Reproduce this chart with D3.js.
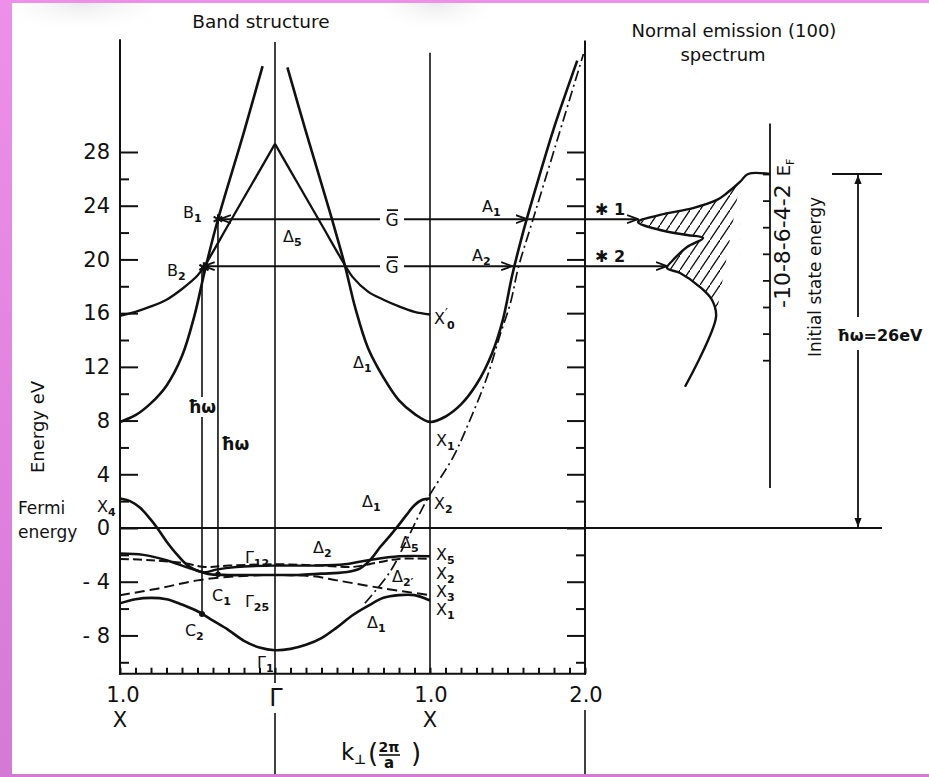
<!DOCTYPE html>
<html><head><meta charset="utf-8">
<script src="https://cdn.jsdelivr.net/npm/d3@7"></script>
<style>
body{margin:0;background:#e68ae6;}
svg{display:block}
text{font-family:"DejaVu Sans",sans-serif;fill:#111}
</style>
</head><body>
<svg id="c" width="929" height="777"></svg>
<script>
// ---------- DATA ----------
const energyMajor = [28,24,20,16,12,8,4,0,-4,-8];
const energyMinor = [26,22,18,14,10,6,2,-2,-6,-10];
const kTicks = d3.range(-10,21).map(i=>i/10);
const kTopLabels = [[-1,"1.0"],[0,"Γ"],[1,"1.0"],[2,"2.0"]];
const kBottomLabels = [[-1,"X"],[1,"X"]];
const specTicks = [0,-2,-4,-6,-8,-10,-12,-14];

// bands: [k, E(eV)]  (k in 2π/a, X=-1, Γ=0, X=1)
const upperLeft  = [[-1,7.9],[-0.9,8.4],[-0.8,9.3],[-0.7,10.6],[-0.6,12.8],[-0.52,15.8],[-0.45,19.3],[-0.37,22.9],[-0.2,29.5],[-0.08,34.4]];
const upperRight = [[0.08,34.3],[0.2,29.5],[0.37,22.9],[0.45,19.6],[0.52,16.3],[0.6,13.4],[0.7,11.2],[0.8,9.5],[0.9,8.5],[1.0,7.9],[1.1,8.3],[1.2,9.2],[1.3,10.7],[1.4,13.0],[1.47,15.5],[1.53,18.8],[1.6,22.0],[1.7,26.0],[1.8,29.8],[1.95,34.8]];
const delta5Left  = [[-1,15.8],[-0.9,16.1],[-0.8,16.5],[-0.7,17.0],[-0.6,17.8],[-0.5,18.8],[-0.45,19.6],[-0.3,22.6],[-0.15,25.6],[0,28.6]];
const delta5Right = [[0,28.6],[0.15,25.6],[0.3,22.6],[0.45,19.6],[0.5,18.7],[0.6,17.6],[0.7,17.0],[0.8,16.5],[0.9,16.1],[1,15.9]];
const freeElectron = [[0.58,-5.6],[0.74,-3.3],[0.85,-0.9],[0.98,2.1],[1.15,5.3],[1.26,8.1],[1.37,11.3],[1.45,14.3],[1.52,16.8],[1.57,19.4],[1.665,23.0],[1.8,28.1],[1.99,35.3]];
const lowestBand = [[-1,-5.6],[-0.9,-5.3],[-0.8,-5.2],[-0.7,-5.3],[-0.6,-5.7],[-0.5,-6.2],[-0.4,-6.9],[-0.3,-7.6],[-0.2,-8.4],[-0.1,-8.9],[0,-9.1],[0.1,-9.0],[0.2,-8.7],[0.3,-8.2],[0.4,-7.4],[0.5,-6.5],[0.6,-5.8],[0.7,-5.2],[0.8,-5.0],[0.9,-5.0],[1,-5.4]];
const lowDashed = [[-1,-5.0],[-0.75,-4.5],[-0.5,-3.9],[-0.25,-3.6],[0,-3.5],[0.25,-3.6],[0.4,-3.9],[0.7,-4.5],[1,-5.0]];
const dSolid = [[-1,-1.9],[-0.85,-2.0],[-0.7,-2.4],[-0.55,-3.0],[-0.45,-3.3],[-0.38,-3.1],[-0.25,-2.9],[0,-2.8],[0.25,-2.8],[0.45,-2.7],[0.6,-2.4],[0.8,-2.1],[1,-2.1]];
const dDashed = [[-1,-2.3],[-0.8,-2.4],[-0.6,-2.6],[-0.45,-2.9],[-0.3,-2.8],[0,-2.7],[0.3,-2.8],[0.5,-2.9],[0.65,-2.6],[0.8,-2.3],[1,-2.3]];
const delta1Upper = [[-1,2.2],[-0.935,2.0],[-0.87,1.5],[-0.8,0.6],[-0.76,0.0],[-0.7,-1.0],[-0.63,-2.0],[-0.55,-2.9],[-0.44,-3.4],[-0.3,-3.5],[-0.15,-3.5],[0,-3.5],[0.15,-3.5],[0.3,-3.4],[0.45,-3.3],[0.55,-3.0],[0.62,-2.3],[0.68,-1.4],[0.74,-0.6],[0.79,0.1],[0.85,1.0],[0.9,1.7],[0.95,2.1],[1,2.2]];

// transitions
const hwK    = [-0.471,-0.368];   // vertical ħω transitions
const hwTop  = [19.5,23.0];
const hwBot  = [-6.4,-3.45];
const gE     = [23.0,19.5];       // Ḡ umklapp lines
const gKB    = [-0.355,-0.46];
const gKA    = [1.625,1.53];
const gPeakI = [10.15,7.92];
const gNames = ["1","2"];

// spectrum: initial-state energy (eV) vs intensity (arb.)
const specE = [-16.0,-10.75,-9.47,-8.5,-7.44,-7.07,-6.47,-5.49,-4.81,-4.59,-4.21,-3.61,-3.08,-2.56,-1.95,-1.43,-0.6,0,0];
const specI = [6.54,4.15,4.46,5.38,6.92,7.92,7.46,6.38,5.15,6.38,8.46,10.15,8.46,5.92,4.08,3.31,2.31,1.69,0];
const hatchEdgeE = [-8.4,-0.6];
const hatchEdgeI = 2.3;
const photonEnergy = 26;

// band labels: k, E, main, sub, sup
const bandLabels = [
 [-0.594,23.1,"B","1"],[-0.697,18.8,"B","2"],[0.052,21.3,"Δ","5"],
 [1.335,23.5,"A","1"],[1.271,19.85,"A","2"],[1.026,15.2,"X","0","′"],
 [0.503,11.9,"Δ","1"],[1.039,6.1,"X","1"],[-1.148,1.2,"X","4"],
 [0.561,1.55,"Δ","1"],[1.026,1.4,"X","2"],[-0.194,-2.6,"Γ","12"],
 [0.245,-1.87,"Δ","2"],[0.806,-1.5,"Δ","5"],[1.039,-2.4,"X","5"],
 [1.039,-3.8,"X","2"],[1.039,-5.15,"X","3"],[1.039,-6.5,"X","1"],
 [0.755,-4.03,"Δ","2′"],[-0.406,-5.45,"C","1"],[-0.194,-5.9,"Γ","25"],
 [-0.581,-8.06,"C","2"],[0.594,-7.46,"Δ","1"],[-0.116,-10.45,"Γ","1"]
];

// ---------- SCALES ----------
const svg = d3.select("#c");
const x  = d3.scaleLinear().domain([-1,2]).range([120,585]);
const y  = d3.scaleLinear().domain([0,28]).range([528,152]);
const ys = d3.scaleLinear().domain([0,-10]).range([174,307]);
const xs = d3.scaleLinear().domain([0,10]).range([770,640]);
const eTop = 36.4, eBot = -10.85;
const ink = "#111";

// ---------- BACKGROUND ----------
const defs = svg.append("defs");
const bg = defs.append("linearGradient").attr("id","pink").attr("x1",0).attr("y1",0).attr("x2",0).attr("y2",1);
bg.append("stop").attr("offset","0%").attr("stop-color","#ee90ea");
bg.append("stop").attr("offset","100%").attr("stop-color","#d479d4");
const ng = defs.append("linearGradient").attr("id","noise").attr("x1",0).attr("y1",0).attr("x2",0).attr("y2",1);
ng.append("stop").attr("offset","0%").attr("stop-color","#d0d0d0").attr("stop-opacity",0.45);
ng.append("stop").attr("offset","100%").attr("stop-color","#ffffff").attr("stop-opacity",0);
const ngh = defs.append("radialGradient").attr("id","noise2").attr("cx","50%").attr("cy","0%").attr("r","70%");
ngh.append("stop").attr("offset","0%").attr("stop-color","#d0d0d0").attr("stop-opacity",0.45);
ngh.append("stop").attr("offset","100%").attr("stop-color","#ffffff").attr("stop-opacity",0);
svg.append("rect").attr("width",929).attr("height",777).attr("fill","url(#pink)");
svg.append("rect").attr("x",12).attr("y",3).attr("width",917).attr("height",771).attr("fill","#fff");
svg.append("rect").attr("x",12).attr("y",3).attr("width",140).attr("height",45).attr("fill","url(#noise2)");
svg.append("rect").attr("x",384).attr("y",3).attr("width",104).attr("height",45).attr("fill","url(#noise2)");

// markers
function chevron(id){
  const m = defs.append("marker").attr("id",id).attr("viewBox","0 0 12 10").attr("refX",11).attr("refY",5)
    .attr("markerWidth",12).attr("markerHeight",10).attr("markerUnits","userSpaceOnUse").attr("orient","auto");
  m.append("path").attr("d","M0,1 L11,5 L0,9").attr("fill","none").attr("stroke",ink).attr("stroke-width",1.8);
}
chevron("arr");
const tri = defs.append("marker").attr("id","tri").attr("viewBox","0 0 10 10").attr("refX",10).attr("refY",5)
  .attr("markerWidth",9).attr("markerHeight",9).attr("markerUnits","userSpaceOnUse").attr("orient","auto");
tri.append("path").attr("d","M0,1 L10,5 L0,9 Z").attr("fill",ink);

// ---------- AXES ----------
const fmt = d => d<0 ? "- "+(-d) : String(d);
const gL = svg.append("g").attr("transform",`translate(${x(-1)},0)`);
gL.call(d3.axisLeft(y).tickValues(energyMajor).tickSize(-18).tickPadding(10).tickFormat(fmt));
const gLm = svg.append("g").attr("transform",`translate(${x(-1)},0)`);
gLm.call(d3.axisLeft(y).tickValues(energyMinor).tickSize(-9).tickFormat(""));
const gR = svg.append("g").attr("transform",`translate(${x(2)},0)`);
gR.call(d3.axisRight(y).tickValues(energyMajor).tickSize(-18).tickFormat(""));
const gRm = svg.append("g").attr("transform",`translate(${x(2)},0)`);
gRm.call(d3.axisRight(y).tickValues(energyMinor).tickSize(-9).tickFormat(""));
const gB = svg.append("g").attr("transform",`translate(0,${y(eBot)})`);
gB.call(d3.axisBottom(x).tickValues(kTicks).tickSize(-6).tickFormat(""));
[gL,gLm,gR,gRm,gB].forEach(g=>{
  g.select(".domain").remove();
  g.selectAll("line").attr("stroke",ink).attr("stroke-width",2);
  g.selectAll("text").attr("fill",ink).style("font-size","21px").style("font-family","DejaVu Sans");
});
const vline = (xx,y1,y2,w)=>svg.append("line").attr("x1",xx).attr("x2",xx).attr("y1",y1).attr("y2",y2).attr("stroke",ink).attr("stroke-width",w||2);
const hline = (x1,x2,yy,w)=>svg.append("line").attr("x1",x1).attr("x2",x2).attr("y1",yy).attr("y2",yy).attr("stroke",ink).attr("stroke-width",w||2);
vline(x(-1), y(eTop), y(eBot)+1);
vline(x(0), y(36.2), 683, 1.6); vline(x(0), 713, 774, 1.6);
vline(x(1), y(35.4), y(eBot), 1.6);
vline(x(2), y(36.3), y(eBot)+1); vline(x(2), 710, 774, 1.6);
hline(x(-1)-1, x(2)+1, y(eBot));
// Fermi level line
hline(x(-1), 882, y(0), 1.8);

// k labels
kTopLabels.forEach(([k,t])=>{
  svg.append("text").attr("x",x(k)+(k===-1?3:1)).attr("y",t==="Γ"?706:702).attr("text-anchor","middle")
    .style("font-size", t==="Γ"?"24px":"21px").text(t);
});
kBottomLabels.forEach(([k,t])=>{
  svg.append("text").attr("x",x(k)).attr("y",727).attr("text-anchor","middle").style("font-size","21px").text(t);
});

// ---------- BANDS ----------
const line = d3.line().x(d=>x(d[0])).y(d=>y(d[1])).curve(d3.curveCatmullRom.alpha(0.5));
const band = (data,w,dash)=>svg.append("path").attr("d",line(data)).attr("fill","none")
   .attr("stroke",ink).attr("stroke-width",w).attr("stroke-dasharray",dash||null).attr("stroke-linejoin","round");
band(upperLeft,2.6); band(upperRight,2.6);
band(delta5Left,2.3); band(delta5Right,2.3);
band(freeElectron,1.7,"11,4,2,4");
band(lowestBand,2.6);
band(lowDashed,2,"10,5");
band(dSolid,2.4);
band(dDashed,2,"9,4");
band(delta1Upper,2.6);

// ħω vertical transitions
hwK.forEach((k,i)=>{
  const xx = x(k);
  if(i===0){ vline(xx, y(hwTop[i]), 397, 1.6); vline(xx, 417, y(hwBot[i]), 1.6); }
  else vline(xx, y(hwTop[i]), y(hwBot[i]), 1.6);
});
svg.append("text").attr("x",x(hwK[0])).attr("y",413).attr("text-anchor","middle").style("font-size","17px").style("font-weight","bold").text("ħω");
svg.append("text").attr("x",x(hwK[1])+3).attr("y",450).style("font-size","17px").style("font-weight","bold").text("ħω");

// points
svg.append("path").attr("d",d3.symbol(d3.symbolAsterisk,70)()).attr("transform",`translate(${x(-0.368)},${y(23)})`).attr("stroke",ink).attr("stroke-width",2).attr("fill","none");
svg.append("path").attr("d",d3.symbol(d3.symbolAsterisk,80)()).attr("transform",`translate(${x(-0.458)},${y(19.4)})`).attr("stroke",ink).attr("stroke-width",2.4).attr("fill","none");
svg.append("circle").attr("cx",x(hwK[1])).attr("cy",y(hwBot[1])).attr("r",2.8).attr("fill",ink);
svg.append("circle").attr("cx",x(hwK[0])).attr("cy",y(hwBot[0])).attr("r",3).attr("fill",ink);

// Ḡ lines
const gLabK = 0.755;
gE.forEach((E,i)=>{
  const yy = y(E);
  svg.append("line").attr("x1",x(gLabK)-12).attr("x2",x(gKB[i])).attr("y1",yy).attr("y2",yy).attr("stroke",ink).attr("stroke-width",2).attr("marker-end","url(#arr)");
  svg.append("line").attr("x1",x(gLabK)+12).attr("x2",x(gKA[i])).attr("y1",yy).attr("y2",yy).attr("stroke",ink).attr("stroke-width",2).attr("marker-end","url(#arr)");
  svg.append("line").attr("x1",x(gKA[i])).attr("x2",xs(gPeakI[i])).attr("y1",yy).attr("y2",yy).attr("stroke",ink).attr("stroke-width",2).attr("marker-end","url(#arr)");
  svg.append("text").attr("x",x(gLabK)).attr("y",yy+7).attr("text-anchor","middle").style("font-size","17px").text("G");
  hline(x(gLabK)-5, x(gLabK)+6, yy-9, 1.8);
  svg.append("text").attr("x",x(2)+10).attr("y",yy-4).style("font-size","16px").style("font-weight","bold").text("✱ "+gNames[i]);
});

// band labels
bandLabels.forEach(([k,E,main,sub,sup])=>{
  const t = svg.append("text").attr("x",x(k)).attr("y",y(E)).style("font-size","16px");
  t.append("tspan").text(main);
  if(sup){ t.append("tspan").attr("dy",-7).style("font-size","13px").text(sup); }
  if(sub){ t.append("tspan").attr("dy",sup?12:4).attr("dx",sup?-1:0).style("font-size","11px").style("font-weight","bold").text(sub); }
});

// ---------- SPECTRUM ----------
const spec = specE.map((e,i)=>[specI[i],e]);
const sline = d3.line().x(d=>xs(d[0])).y(d=>ys(d[1])).curve(d3.curveCatmullRom.alpha(0.5));
const hatchPts = spec.filter(d=>d[1]<=-0.6 && d[1]>=-10.75).map(d=>[xs(d[0]),ys(d[1])]);
hatchPts.reverse();
hatchPts.push([xs(hatchEdgeI),ys(hatchEdgeE[1])]);
hatchPts.push([xs(hatchEdgeI),ys(hatchEdgeE[0])]);
const cp = defs.append("clipPath").attr("id","hclip");
cp.append("path").attr("d","M"+hatchPts.map(p=>p.join(",")).join("L")+"Z");
const pat = defs.append("pattern").attr("id","hatch").attr("patternUnits","userSpaceOnUse").attr("width",10).attr("height",15);
pat.append("path").attr("d","M-2,18 L12,-3").attr("stroke",ink).attr("stroke-width",1.3);
svg.append("rect").attr("x",600).attr("y",150).attr("width",200).attr("height",250).attr("fill","url(#hatch)").attr("clip-path","url(#hclip)");
svg.append("path").attr("d",sline(spec)).attr("fill","none").attr("stroke",ink).attr("stroke-width",2.4).attr("stroke-linejoin","round");

// spectrum axis
vline(xs(0), ys(3.8), ys(-23.6), 1.8);
const gS = svg.append("g").attr("transform",`translate(${xs(0)},0)`);
gS.call(d3.axisLeft(ys).tickValues(specTicks).tickSize(7).tickFormat(""));
gS.select(".domain").remove();
gS.selectAll("line").attr("stroke",ink).attr("stroke-width",1.8);
const st = svg.append("text").attr("transform",`translate(790,${ys(-10)+1}) rotate(-90)`).style("font-size","22px");
st.append("tspan").text("-10-8-6-4-2");
st.append("tspan").attr("dx",8).style("font-size","18px").text("E");
st.append("tspan").attr("dy",4).style("font-size","11px").text("F");
svg.append("text").attr("transform",`translate(821,357) rotate(-90)`).style("font-size","17px").text("Initial state energy");

// ħω bracket
const bx = 858;
hline(832, 882, ys(0), 2);
svg.append("line").attr("x1",bx).attr("x2",bx).attr("y1",317).attr("y2",ys(0)+1).attr("stroke",ink).attr("stroke-width",1.8).attr("marker-end","url(#tri)");
svg.append("line").attr("x1",bx).attr("x2",bx).attr("y1",350).attr("y2",y(0)-1).attr("stroke",ink).attr("stroke-width",1.8).attr("marker-end","url(#tri)");
svg.append("text").attr("x",837).attr("y",341).style("font-size","16px").style("font-weight","bold").text("ħω=" + photonEnergy + "eV");

// ---------- TITLES & AXIS LABELS ----------
svg.append("text").attr("x",261).attr("y",28).attr("text-anchor","middle").style("font-size","18.5px").text("Band structure");
svg.append("text").attr("x",734).attr("y",37).attr("text-anchor","middle").style("font-size","18px").text("Normal emission (100)");
svg.append("text").attr("x",723).attr("y",61).attr("text-anchor","middle").style("font-size","18px").text("spectrum");
svg.append("text").attr("transform","translate(44,427) rotate(-90)").attr("text-anchor","middle").style("font-size","18px").text("Energy eV");
svg.append("text").attr("x",18).attr("y",514).style("font-size","17px").text("Fermi");
svg.append("text").attr("x",18).attr("y",538).style("font-size","17px").text("energy");

// k-axis title k⊥(2π/a)
const kt = svg.append("text").attr("x",341).attr("y",760).style("font-size","23px");
kt.append("tspan").text("k");
kt.append("tspan").attr("dy",4).style("font-size","13px").style("font-weight","bold").text("⊥");
svg.append("text").attr("x",368).attr("y",762).style("font-size","26px").text("(");
svg.append("text").attr("x",389).attr("y",752).attr("text-anchor","middle").style("font-size","14px").style("font-weight","bold").text("2π");
hline(379, 400, 755, 1.6);
svg.append("text").attr("x",389).attr("y",768).attr("text-anchor","middle").style("font-size","15px").style("font-weight","bold").text("a");
svg.append("text").attr("x",411).attr("y",762).style("font-size","26px").text(")");
</script>
</body></html>
